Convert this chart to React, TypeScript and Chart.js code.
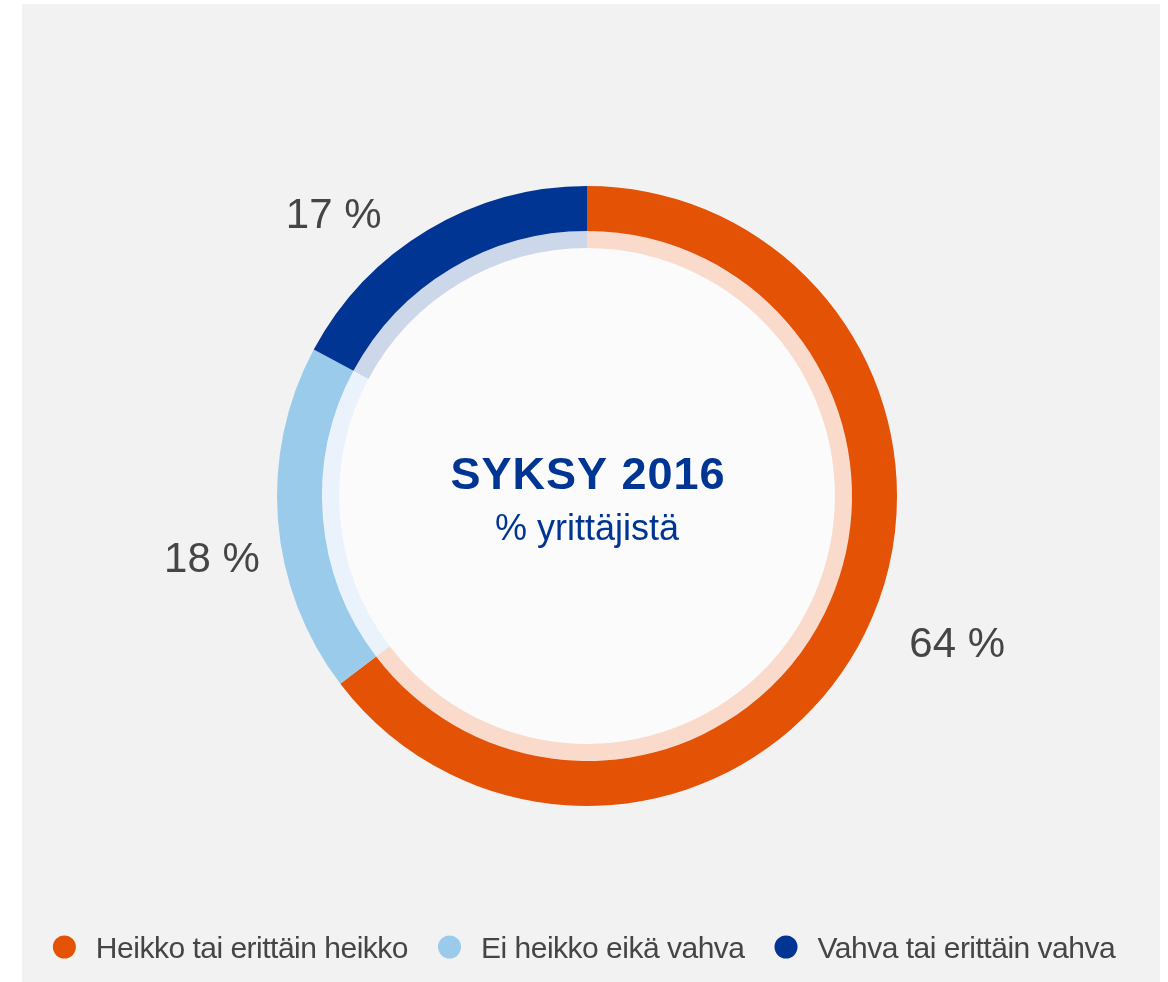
import React, { useEffect, useRef } from "react";
import { Chart, registerables } from "chart.js";

Chart.register(...registerables);

const categories = ["Heikko tai erittäin heikko", "Ei heikko eikä vahva", "Vahva tai erittäin vahva"];
const values = [64, 18, 17];
const colors = ["#E35205", "#9ACBEA", "#003594"];
const paleColors = ["#F9DACB", "#EAF3FB", "#CCD7EA"];
const titleText = "SYKSY 2016";
const subtitleText = "% yrittäjistä";

const FONT = "'Liberation Sans', Arial, Helvetica, sans-serif";

const decorPlugin = {
  id: "decor",
  beforeDatasetsDraw(chart: any) {
    const meta = chart.getDatasetMeta(1);
    const arc = meta.data[0];
    if (!arc) return;
    const { x, y, innerRadius } = arc.getProps(["x", "y", "innerRadius"], true);
    const ctx = chart.ctx;
    ctx.save();
    ctx.beginPath();
    ctx.arc(x, y, innerRadius, 0, Math.PI * 2);
    ctx.fillStyle = "#fbfbfb";
    ctx.fill();
    ctx.restore();
  },
  afterDatasetsDraw(chart: any, _args: any, opts: any) {
    const ctx = chart.ctx;
    const meta = chart.getDatasetMeta(0);
    const first = meta.data[0];
    if (!first) return;
    const { x: cx, y: cy } = first.getProps(["x", "y"], true);
    ctx.save();
    // centre text
    ctx.textAlign = "center";
    ctx.textBaseline = "alphabetic";
    ctx.fillStyle = "#003594";
    ctx.font = `bold 45px ${FONT}`;
    try { (ctx as any).letterSpacing = "1px"; } catch (e) {}
    ctx.fillText(titleText, cx + 1, cy - 7);
    try { (ctx as any).letterSpacing = "0px"; } catch (e) {}
    ctx.font = `36px ${FONT}`;
    ctx.fillText(subtitleText, cx, cy + 44);

    // data labels
    const angOff: number[] = opts.angleOffsets;
    const dist: number[] = opts.distances;
    ctx.font = `42px ${FONT}`;
    ctx.fillStyle = "#454545";
    meta.data.forEach((el: any, i: number) => {
      const p = el.getProps(["startAngle", "endAngle", "outerRadius"], true);
      const mid = (p.startAngle + p.endAngle) / 2 + (angOff[i] * Math.PI) / 180;
      const r = p.outerRadius + dist[i];
      const lx = cx + Math.cos(mid) * r;
      const ly = cy + Math.sin(mid) * r;
      ctx.fillText(`${values[i]} %`, lx, ly + 15);
    });

    // legend
    ctx.font = `30px ${FONT}`;
    try { (ctx as any).letterSpacing = "-0.5px"; } catch (e) {}
    ctx.textAlign = "left";
    const dot = 23;
    const gapDot = 20;
    const gapItem = 30;
    const widths = categories.map((c) => ctx.measureText(c).width);
    const total = widths.reduce((a, b) => a + b, 0) + categories.length * (dot + gapDot) + (categories.length - 1) * gapItem;
    let lx = cx - 3 - total / 2;
    const ly = opts.legendY;
    categories.forEach((c, i) => {
      ctx.beginPath();
      ctx.arc(lx + dot / 2, ly, dot / 2, 0, Math.PI * 2);
      ctx.fillStyle = colors[i];
      ctx.fill();
      ctx.fillStyle = "#454545";
      ctx.fillText(c, lx + dot + gapDot, ly + 11);
      lx += dot + gapDot + widths[i] + gapItem;
    });
    ctx.restore();
  },
};

export default function App() {
  const ref = useRef<HTMLCanvasElement | null>(null);
  useEffect(() => {
    if (!ref.current) return;
    const chart = new Chart(ref.current, {
      type: "doughnut",
      data: {
        labels: categories,
        datasets: [
          {
            data: values,
            backgroundColor: colors,
            borderWidth: 0,
            weight: 45,
            offset: 0,
            hoverOffset: 0,
          },
          {
            data: values,
            backgroundColor: paleColors,
            borderWidth: 0,
            weight: 17,
            offset: 0,
            hoverOffset: 0,
          },
        ],
      },
      options: {
        animation: false,
        responsive: false,
        cutout: "80%",
        rotation: 0,
        layout: { padding: { left: 255, right: 263, top: 182, bottom: 176 } },
        plugins: {
          legend: { display: false },
          tooltip: { enabled: false },
          decor: {
            angleOffsets: [-4.8, -4.7, -10.9],
            distances: [88, 70, 70],
            legendY: 943,
          },
        } as any,
      },
      plugins: [decorPlugin],
    });
    return () => chart.destroy();
  }, []);

  return (
    <div style={{ position: "absolute", left: 0, top: 0, width: 1168, height: 982, background: "#ffffff", overflow: "hidden" }}>
      <div style={{ position: "absolute", left: 22, top: 4, width: 1138, height: 978, background: "#f2f2f2" }}>
        <canvas ref={ref} width={1138} height={978} style={{ display: "block", width: 1138, height: 978 }} />
      </div>
    </div>
  );
}
